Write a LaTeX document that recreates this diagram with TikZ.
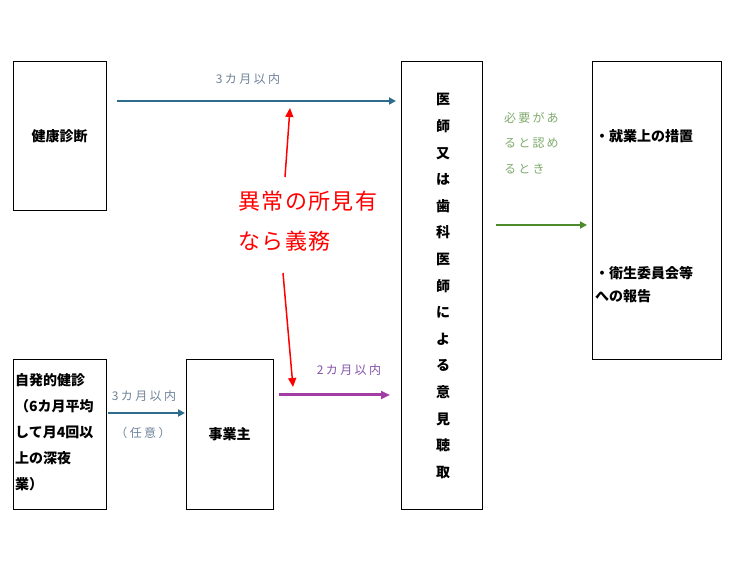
\documentclass[tikz,border=0pt]{standalone}
\usepackage{fontspec}
\setmainfont{Noto Sans CJK JP}
\usetikzlibrary{arrows.meta}
\definecolor{teal1}{HTML}{2E6B8C}
\definecolor{teallbl}{HTML}{6E8298}
\definecolor{purp}{HTML}{A33CA3}
\definecolor{purplbl}{HTML}{8352A8}
\definecolor{grn}{HTML}{4C8A2C}
\definecolor{grnlbl}{HTML}{7FAA6C}
\tikzset{
  box/.style={draw=black, line width=1pt, inner sep=0pt},
  boxtxt/.style={font=\fontsize{14}{26}\selectfont\bfseries},
  lbl/.style={font=\fontsize{12}{25}\selectfont\addfontfeature{LetterSpace=20}, inner sep=0pt},
  tip/.style={-{Triangle[length=7pt,width=7pt]}},
  bigtip/.style={-{Triangle[length=9pt,width=8pt]}},
}
\begin{document}
\begin{tikzpicture}[x=1pt,y=-1pt]
\useasboundingbox (0,0) rectangle (737,585);
% boxes
\node[box, minimum width=93pt, minimum height=149pt, boxtxt] (kenko) at (59.5,136.5) {健康診断};
\node[box, minimum width=93pt, minimum height=149pt] (jihatsu) at (59.5,434.5) {};
\node[boxtxt, align=left, anchor=north west, inner sep=0pt] (jihatsutxt) at (15,373) {自発的健診\\（6カ月平均\\して月4回以\\上の深夜\\業）};
\node[box, minimum width=87pt, minimum height=149pt, boxtxt] (jigyo) at (229.5,434.5) {事業主};
\node[box, minimum width=81pt, minimum height=447pt] (ishi) at (442,285.5) {};
\node[boxtxt, align=center, inner sep=0pt, font=\fontsize{14}{26.6}\selectfont\bfseries] (ishitxt) at (443,286) {医\\師\\又\\は\\歯\\科\\医\\師\\に\\よ\\る\\意\\見\\聴\\取};
\node[box, minimum width=129pt, minimum height=298pt] (right) at (656.5,211) {};
\node[boxtxt, anchor=west, inner sep=0pt] (sochi) at (595,136) {・就業上の措置};
\node[boxtxt, align=left, anchor=north west, inner sep=0pt, font=\fontsize{14}{23}\selectfont\bfseries] (eisei) at (595,266) {・衛生委員会等\\への報告};
% red text
\node[text=red, align=left, font=\fontsize{22}{40}\selectfont\addfontfeature{LetterSpace=6}, inner sep=0pt] (ijou) at (308,221) {異常の所見有\\なら義務};
% coordinates
\coordinate (t1) at (117,101);
\coordinate (t2) at (396,101);
\coordinate (p1) at (279,395);
\coordinate (p2) at (390,395);
\coordinate (s1) at (108,413);
\coordinate (s2) at (185,413);
\coordinate (g1) at (496,225);
\coordinate (g2) at (587,225);
\coordinate (r1) at (285,177);
\coordinate (r2) at (290,108);
\coordinate (r3) at (283,273);
\coordinate (r4) at (293,387);
% arrows
\draw[tip, teal1, line width=2pt] (t1) -- (t2);
\draw[bigtip, purp, line width=3pt] (p1) -- (p2);
\draw[tip, teal1, line width=2pt] (s1) -- (s2);
\draw[tip, grn, line width=2pt] (g1) -- (g2);
\draw[bigtip, red, line width=1.5pt] (r1) -- (r2);
\draw[bigtip, red, line width=1.5pt] (r3) -- (r4);
% labels
\node[lbl, text=teallbl] (l1) at (248,79) {3カ月以内};
\node[lbl, text=purplbl] (l2) at (349,370) {2カ月以内};
\node[lbl, text=teallbl] (l3) at (144,396) {3カ月以内};
\node[lbl, text=teallbl] (l4) at (143,433) {（任意）};
\node[lbl, text=grnlbl, align=left, anchor=north west, font=\fontsize{12}{25.5}\selectfont\addfontfeature{LetterSpace=18}] (l5) at (504,112) {必要があ\\ると認め\\るとき};
\end{tikzpicture}
\end{document}
